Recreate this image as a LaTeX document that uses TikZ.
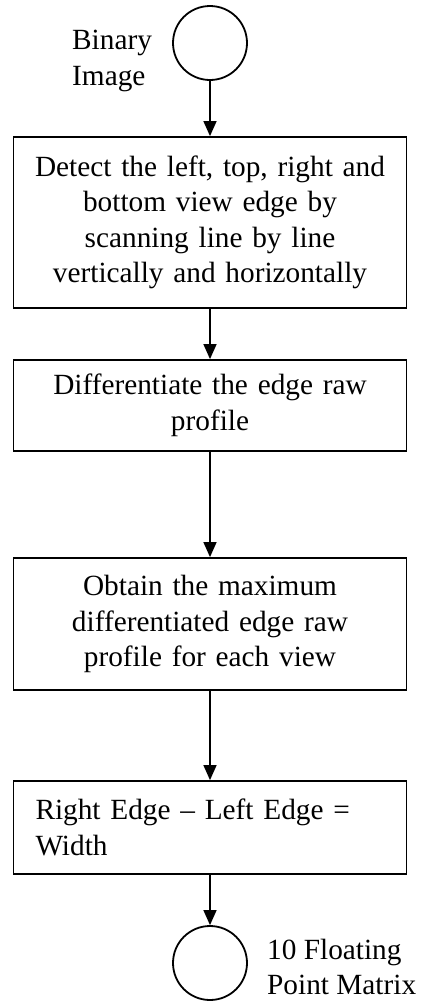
\documentclass[tikz,border=0pt]{standalone}
\usepackage{fontspec}
\setmainfont{Liberation Serif}
\usetikzlibrary{arrows.meta}
\begin{document}
\begin{tikzpicture}[x=1pt,y=-1pt,
  every node/.style={font=\fontsize{29.3}{35.5}\selectfont},
  stepbox/.style={draw, line width=1.8pt, text width=373pt, inner xsep=10pt,
    inner ysep=0pt, minimum height=#1, align=center},
  leftbox/.style={stepbox=#1, text width=349pt, inner xsep=22pt, align=left},
  terminal/.style={draw, circle, line width=1.8pt, minimum size=74pt, inner sep=0pt},
  tag/.style={align=left, inner sep=0pt},
  flow/.style={-{Triangle[length=15pt,width=13pt]}, line width=1.4pt}]
  \useasboundingbox (0,0) rectangle (421,1002);

  % start and end terminals with their captions
  \node[terminal] (start) at (210,43) {};
  \node[tag, anchor=west] (startlabel) at (72,61) {Binary\\Image};

  % processing steps
  \node[stepbox=171pt] (detect) at (210,222.5)
    {Detect the left, top, right and\\bottom view edge by\\scanning line by line\\vertically and horizontally};
  \node[stepbox=91pt] (diff) at (210,405.5)
    {Differentiate the edge raw\\profile};
  \node[stepbox=132pt] (obtain) at (210,624)
    {Obtain the maximum\\differentiated edge raw\\profile for each view};
  \node[leftbox=93pt] (width) at (210,827.5)
    {Right Edge – Left Edge =\\Width};

  \node[terminal] (result) at (210,963) {};
  \node[tag, anchor=west] (resultlabel) at (267,967) {10 Floating\\Point Matrix};

  % flow connectors
  \draw[flow] (start.south) -- (detect.north);
  \draw[flow] (detect.south) -- (diff.north);
  \draw[flow] (diff.south) -- (obtain.north);
  \draw[flow] (obtain.south) -- (width.north);
  \draw[flow] (width.south) -- (result.north);
\end{tikzpicture}
\end{document}
